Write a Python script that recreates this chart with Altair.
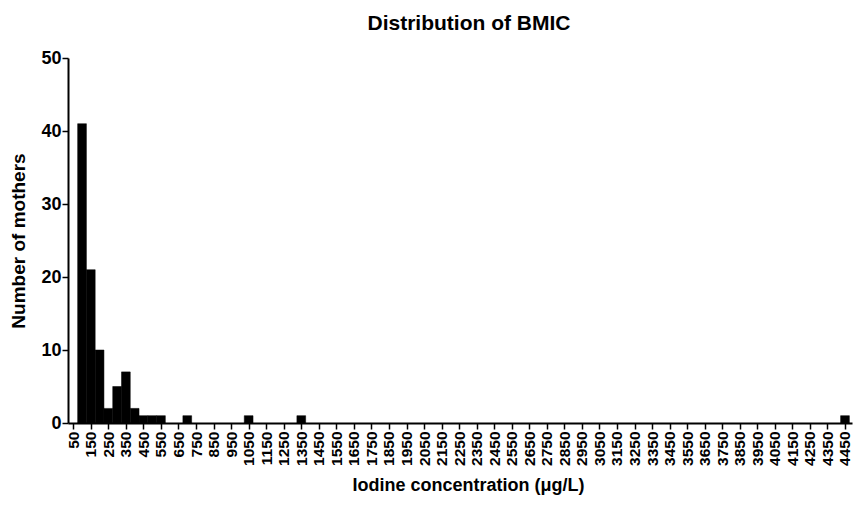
import altair as alt
import pandas as pd

# Histogram bins (centre of each 50-unit bin) and counts
bin_centers = [100, 150, 200, 250, 300, 350, 400, 450, 500, 550, 700, 1050, 1350, 4450]
counts = [41, 21, 10, 2, 5, 7, 2, 1, 1, 1, 1, 1, 1, 1]
half_bin = 25

x_ticks = [50, 150, 250, 350, 450, 550, 650, 750, 850, 950, 1050, 1150, 1250, 1350,
           1450, 1550, 1650, 1750, 1850, 1950, 2050, 2150, 2250, 2350, 2450, 2550,
           2650, 2750, 2850, 2950, 3050, 3150, 3250, 3350, 3450, 3550, 3650, 3750,
           3850, 3950, 4050, 4150, 4250, 4350, 4450]
y_ticks = [0, 10, 20, 30, 40, 50]

df = pd.DataFrame({"center": bin_centers, "count": counts})

FONT = "Liberation Sans"

chart = alt.Chart(df).transform_calculate(
    lo=f"datum.center - {half_bin}",
    hi=f"datum.center + {half_bin}",
).mark_bar(color="black", stroke="black", strokeWidth=0.5, clip=True).encode(
    x=alt.X(
        "lo:Q",
        scale=alt.Scale(domain=[20, 4490], nice=False, zero=False),
        axis=alt.Axis(
            values=x_ticks,
            format="d",
            labelAngle=270,
            labelFont=FONT, labelFontWeight="bold", labelFontSize=15.5, labelColor="black",
            labelPadding=2, labelOverlap=False, labelBound=False, labelFlush=False,
            tickSize=6, tickWidth=1.5, tickColor="black",
            domainColor="black", domainWidth=2,
            grid=False,
            title="Iodine concentration (μg/L)",
            titleFont=FONT, titleFontWeight="bold", titleFontSize=18, titleColor="black",
            titlePadding=11, titleX=400,
        ),
    ),
    x2="hi:Q",
    y=alt.Y(
        "count:Q",
        scale=alt.Scale(domain=[0, 50], nice=False),
        axis=alt.Axis(
            values=y_ticks,
            labelFont=FONT, labelFontWeight="bold", labelFontSize=18, labelColor="black",
            labelPadding=1,
            tickSize=6, tickWidth=1.5, tickColor="black",
            domainColor="black", domainWidth=2,
            grid=False,
            title="Number of mothers",
            titleFont=FONT, titleFontWeight="bold", titleFontSize=19, titleColor="black",
            titlePadding=12,
        ),
    ),
    y2=alt.datum(0),
).properties(
    width=784,
    height=365,
    autosize="none",
    padding={"left": 60, "top": 50, "right": 2, "bottom": 74},
    title=alt.TitleParams(
        "Distribution of BMIC",
        font=FONT, fontWeight="bold", fontSize=21, color="black",
        anchor="middle", frame="group", offset=15, dx=9,
    ),
).configure_view(stroke=None)

chart.save("out.html", embed_options={"renderer": "svg", "actions": False})
